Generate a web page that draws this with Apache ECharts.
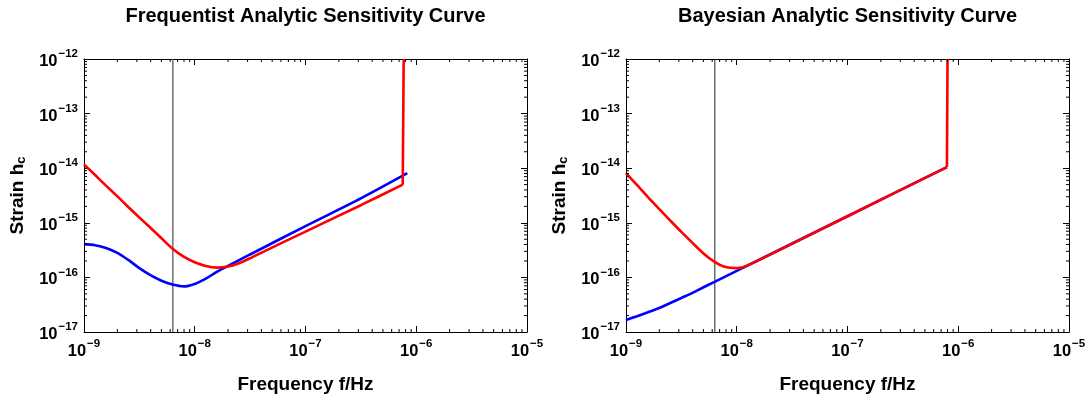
<!DOCTYPE html>
<html><head><meta charset="utf-8">
<script src="https://cdn.jsdelivr.net/npm/echarts@6/dist/echarts.min.js"></script>
<style>html,body{margin:0;padding:0;background:#fff}#c{width:1089px;height:399px}</style>
</head><body><div id="c"></div><script>
const FONT = "'Liberation Sans', Arial, Helvetica, sans-serif";
const panelTitles = ['Frequentist Analytic Sensitivity Curve', 'Bayesian Analytic Sensitivity Curve'];
const xTicks = [1e-9, 1e-8, 1e-7, 1e-6, 1e-5];
const yTicks = [1e-17, 1e-16, 1e-15, 1e-14, 1e-13, 1e-12];
const markerFreq = 6.34e-9; // 1 / (5 yr)

// Frequentist panel (last two red points = vertical cut-off)
const freqRedF = [1.0e-9, 1.26e-9, 1.58e-9, 2.0e-9, 2.51e-9, 3.16e-9, 3.98e-9, 5.01e-9, 6.31e-9, 7.94e-9, 1.0e-8, 1.26e-8, 1.58e-8, 2.0e-8, 2.51e-8, 3.16e-8, 3.98e-8, 1.0e-7, 3.16e-7, 7.55e-7, 7.7e-7];
const strainRedF = [1.17e-14, 7.5e-15, 4.8e-15, 3.05e-15, 1.95e-15, 1.25e-15, 8.1e-16, 5.2e-16, 3.35e-16, 2.4e-16, 1.9e-16, 1.62e-16, 1.51e-16, 1.58e-16, 1.82e-16, 2.24e-16, 2.82e-16, 6.9e-16, 2.1e-15, 5.0e-15, 1e-12];
const freqBlueF = [1.0e-9, 1.26e-9, 1.58e-9, 2.0e-9, 2.51e-9, 3.16e-9, 3.98e-9, 5.01e-9, 6.31e-9, 7.94e-9, 1.0e-8, 1.26e-8, 1.58e-8, 2.0e-8, 3.16e-8, 1.0e-7, 3.16e-7, 8.3e-7];
const strainBlueF = [4.07e-16, 3.89e-16, 3.47e-16, 2.82e-16, 2.09e-16, 1.48e-16, 1.1e-16, 8.7e-17, 7.4e-17, 6.84e-17, 7.6e-17, 9.5e-17, 1.26e-16, 1.62e-16, 2.63e-16, 8.7e-16, 2.8e-15, 8.1e-15];

// Bayesian panel (last two red points = vertical cut-off)
const freqRedB = [1.0e-9, 1.26e-9, 1.58e-9, 2.0e-9, 2.51e-9, 3.16e-9, 3.98e-9, 5.01e-9, 6.31e-9, 7.76e-9, 1.0e-8, 1.26e-8, 1.0e-7, 7.9e-7, 8.0e-7];
const strainRedB = [8.1e-15, 4.9e-15, 2.95e-15, 1.78e-15, 1.1e-15, 6.8e-16, 4.3e-16, 2.75e-16, 1.92e-16, 1.56e-16, 1.48e-16, 1.66e-16, 1.32e-15, 1.05e-14, 1e-12];
const freqBlueB = [1.0e-9, 1.26e-9, 1.58e-9, 2.0e-9, 2.51e-9, 3.16e-9, 3.98e-9, 5.01e-9, 6.31e-9, 1.0e-8, 1.0e-7, 7.9e-7];
const strainBlueB = [1.66e-17, 1.95e-17, 2.3e-17, 2.75e-17, 3.4e-17, 4.2e-17, 5.2e-17, 6.6e-17, 8.3e-17, 1.32e-16, 1.32e-15, 1.05e-14];

const zip = (a, b) => a.map((v, i) => [v, b[i]]);
const minorVals = (lo, hi) => { const r = []; for (let e = lo; e < hi; e++) for (let m = 2; m <= 9; m++) r.push(m * Math.pow(10, e)); return r; };
const xMinor = minorVals(-9, -5);
const yMinor = minorVals(-17, -12);

const sup = v => { const e = Math.round(Math.log10(v)); return '{b|10}{s|' + (e < 0 ? '\u2212' + (-e) : e) + '}'; };
const rich = {
  b: { fontSize: 16.5, fontWeight: 'bold', fontFamily: FONT, color: '#000', lineHeight: 22, verticalAlign: 'bottom' },
  s: { fontSize: 11.5, fontWeight: 'bold', fontFamily: FONT, color: '#000', verticalAlign: 'top', lineHeight: 22, padding: [0, 0, 0, 1] }
};
const grids = [
  { left: 84, top: 59, width: 443, height: 274 },
  { left: 626, top: 59, width: 443, height: 274 }
];
const xAxes = [], yAxes = [], series = [];
grids.forEach((g, gi) => {
  xAxes.push({ type: 'log', logBase: 10, gridIndex: gi, min: xTicks[0], max: xTicks[xTicks.length - 1],
    name: 'Frequency f/Hz', nameLocation: 'middle', nameGap: 43,
    nameTextStyle: { fontSize: 19, fontWeight: 'bold', fontFamily: FONT, color: '#000' },
    axisLine: { show: true, lineStyle: { color: '#000', width: 1 } },
    axisTick: { show: true, inside: true, length: 6, lineStyle: { color: '#000' } },
    axisLabel: { formatter: sup, rich: rich, margin: 6 },
    splitLine: { show: false } });
  xAxes.push({ type: 'log', logBase: 10, gridIndex: gi, position: 'top', min: xTicks[0], max: xTicks[xTicks.length - 1],
    axisLine: { show: true, lineStyle: { color: '#000', width: 1 } },
    axisTick: { show: true, inside: true, length: 6, lineStyle: { color: '#000' } },
    axisLabel: { show: false }, splitLine: { show: false } });
  yAxes.push({ type: 'log', logBase: 10, gridIndex: gi, min: yTicks[0], max: yTicks[yTicks.length - 1],
    name: 'Strain h{sub|c}', nameLocation: 'middle', nameGap: 56,
    nameTextStyle: { fontSize: 19, fontWeight: 'bold', fontFamily: FONT, color: '#000',
      rich: { sub: { fontSize: 13, fontWeight: 'bold', fontFamily: FONT, color: '#000', verticalAlign: 'bottom', padding: [7, 0, 0, 0] } } },
    axisLine: { show: true, lineStyle: { color: '#000', width: 1 } },
    axisTick: { show: true, inside: true, length: 6, lineStyle: { color: '#000' } },
    axisLabel: { formatter: sup, rich: rich, margin: 6 },
    splitLine: { show: false } });
  yAxes.push({ type: 'log', logBase: 10, gridIndex: gi, position: 'right', min: yTicks[0], max: yTicks[yTicks.length - 1],
    axisLine: { show: true, lineStyle: { color: '#000', width: 1 } },
    axisTick: { show: true, inside: true, length: 6, lineStyle: { color: '#000' } },
    axisLabel: { show: false }, splitLine: { show: false } });
});
const data = [
  { red: zip(freqRedF, strainRedF), blue: zip(freqBlueF, strainBlueF), vcolor: '#666', vwidth: 1.4 },
  { red: zip(freqRedB, strainRedB), blue: zip(freqBlueB, strainBlueB), vcolor: '#222', vwidth: 1 }
];
data.forEach((d, gi) => {
  const xi = gi * 2, yi = gi * 2;
  // vertical marker line at 1/(5 yr)
  series.push({ type: 'line', xAxisIndex: xi, yAxisIndex: yi, silent: true, symbol: 'none', showSymbol: false, z: 2,
    data: [[markerFreq, yTicks[0]], [markerFreq, yTicks[yTicks.length - 1]]],
    lineStyle: { color: d.vcolor, width: d.vwidth } });
  series.push({ type: 'line', xAxisIndex: xi, yAxisIndex: yi, data: d.blue, showSymbol: false, symbol: 'none',
    smooth: 0.3, lineStyle: { color: '#0000ff', width: 2.6 }, z: 3, silent: true });
  const n = d.red.length;
  series.push({ type: 'line', xAxisIndex: xi, yAxisIndex: yi, data: d.red.slice(0, n - 1), showSymbol: false, symbol: 'none',
    smooth: 0.25, lineStyle: { color: '#ff0000', width: 2.6 }, z: 4, silent: true });
  series.push({ type: 'line', xAxisIndex: xi, yAxisIndex: yi, data: d.red.slice(n - 2), showSymbol: false, symbol: 'none',
    lineStyle: { color: '#ff0000', width: 2.6 }, z: 4, silent: true });
  // minor ticks on x (bottom & top)
  series.push({ type: 'custom', xAxisIndex: xi, yAxisIndex: yi, silent: true, clip: false, z: 5,
    data: xMinor.map(v => [v, yTicks[0]]),
    renderItem: (params, api) => {
      const p = api.coord([api.value(0), yTicks[0]]);
      const cs = params.coordSys;
      return { type: 'group', children: [
        { type: 'line', shape: { x1: p[0], y1: cs.y + cs.height, x2: p[0], y2: cs.y + cs.height - 3 }, style: { stroke: '#000', lineWidth: 1 } },
        { type: 'line', shape: { x1: p[0], y1: cs.y, x2: p[0], y2: cs.y + 3 }, style: { stroke: '#000', lineWidth: 1 } }
      ] };
    } });
  // minor ticks on y (left & right)
  series.push({ type: 'custom', xAxisIndex: xi, yAxisIndex: yi, silent: true, clip: false, z: 5,
    data: yMinor.map(v => [xTicks[0], v]),
    renderItem: (params, api) => {
      const p = api.coord([xTicks[0], api.value(1)]);
      const cs = params.coordSys;
      return { type: 'group', children: [
        { type: 'line', shape: { x1: cs.x, y1: p[1], x2: cs.x + 3, y2: p[1] }, style: { stroke: '#000', lineWidth: 1 } },
        { type: 'line', shape: { x1: cs.x + cs.width, y1: p[1], x2: cs.x + cs.width - 3, y2: p[1] }, style: { stroke: '#000', lineWidth: 1 } }
      ] };
    } });
});
const chart = echarts.init(document.getElementById('c'), null, { renderer: 'canvas' });
chart.setOption({
  animation: false,
  backgroundColor: '#fff',
  grid: grids,
  xAxis: xAxes,
  yAxis: yAxes,
  graphic: grids.map((g, i) => ({ type: 'text', x: g.left + g.width / 2, y: 16,
    style: { text: panelTitles[i], font: 'bold 20px ' + FONT, fill: '#000', textAlign: 'center', textVerticalAlign: 'middle' } })),
  series: series
});
</script></body></html>
